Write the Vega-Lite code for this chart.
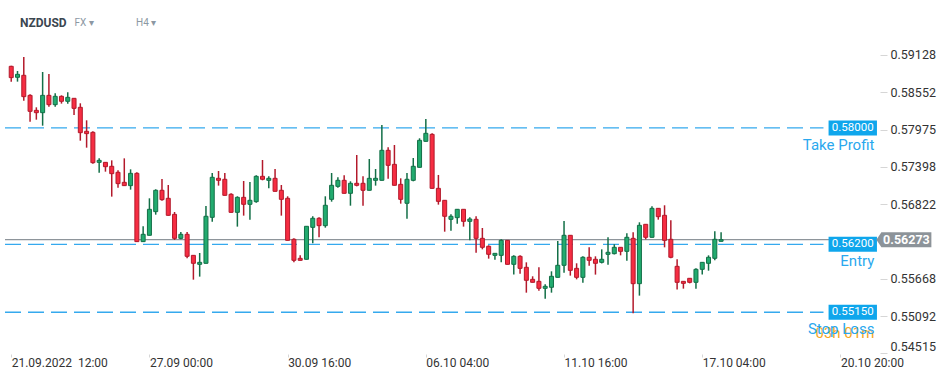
{
  "$schema": "https://vega.github.io/schema/vega-lite/v6.json",
  "autosize": "none",
  "width": 880,
  "height": 314,
  "padding": {"left": 0, "top": 40, "right": 69, "bottom": 24},
  "background": "white",
  "title": {
    "text": "NZDUSD",
    "subtitle": "\u200b\u00a0\u00a0\u00a0\u00a0\u00a0\u00a0\u00a0\u00a0\u00a0\u00a0\u00a0\u00a0\u00a0\u00a0\u00a0\u00a0\u00a0\u00a0\u00a0\u00a0\u00a0\u00a0FX \u25be\u00a0\u00a0\u00a0\u00a0\u00a0\u00a0\u00a0\u00a0\u00a0\u00a0\u00a0\u00a0\u00a0\u00a0\u00a0\u00a0\u00a0H4 \u25be",
    "anchor": "start",
    "frame": "group",
    "dx": 20,
    "offset": 10,
    "font": "Roboto",
    "fontSize": 12,
    "fontWeight": "bold",
    "color": "#3b4650",
    "subtitleFont": "Roboto",
    "subtitleFontSize": 10,
    "subtitleColor": "#8c98a3",
    "subtitlePadding": -12
  },
  "datasets": {
    "candles": [
      {"i":0,"o":0.58953,"h":0.58960,"l":0.58716,"c":0.58778},
      {"i":1,"o":0.58783,"h":0.58881,"l":0.58716,"c":0.58829},
      {"i":2,"o":0.58814,"h":0.59097,"l":0.58422,"c":0.58484},
      {"i":3,"o":0.58504,"h":0.58520,"l":0.58097,"c":0.58257},
      {"i":4,"o":0.58272,"h":0.58319,"l":0.58128,"c":0.58236},
      {"i":5,"o":0.58236,"h":0.58865,"l":0.58035,"c":0.58504},
      {"i":6,"o":0.58504,"h":0.58834,"l":0.58329,"c":0.58360},
      {"i":7,"o":0.58360,"h":0.58535,"l":0.58329,"c":0.58489},
      {"i":8,"o":0.58489,"h":0.58504,"l":0.58376,"c":0.58412},
      {"i":9,"o":0.58412,"h":0.58551,"l":0.58376,"c":0.58473},
      {"i":10,"o":0.58458,"h":0.58460,"l":0.58200,"c":0.58303},
      {"i":11,"o":0.58319,"h":0.58381,"l":0.57803,"c":0.57927},
      {"i":12,"o":0.57948,"h":0.58118,"l":0.57695,"c":0.57912},
      {"i":13,"o":0.57932,"h":0.57948,"l":0.57448,"c":0.57463},
      {"i":14,"o":0.57468,"h":0.57530,"l":0.57309,"c":0.57499},
      {"i":15,"o":0.57468,"h":0.57470,"l":0.57324,"c":0.57401},
      {"i":16,"o":0.57407,"h":0.57499,"l":0.56938,"c":0.57293},
      {"i":17,"o":0.57314,"h":0.57345,"l":0.57077,"c":0.57139},
      {"i":18,"o":0.57159,"h":0.57530,"l":0.57105,"c":0.57108},
      {"i":19,"o":0.57108,"h":0.57360,"l":0.57046,"c":0.57298},
      {"i":20,"o":0.57298,"h":0.57314,"l":0.56238,"c":0.56242},
      {"i":21,"o":0.56242,"h":0.56479,"l":0.56238,"c":0.56355},
      {"i":22,"o":0.56340,"h":0.56912,"l":0.56338,"c":0.56742},
      {"i":23,"o":0.56706,"h":0.57051,"l":0.56659,"c":0.57036},
      {"i":24,"o":0.57036,"h":0.57211,"l":0.56876,"c":0.56891},
      {"i":25,"o":0.56912,"h":0.57118,"l":0.56645,"c":0.56649},
      {"i":26,"o":0.56664,"h":0.56700,"l":0.56268,"c":0.56293},
      {"i":27,"o":0.56293,"h":0.56391,"l":0.56278,"c":0.56355},
      {"i":28,"o":0.56355,"h":0.56391,"l":0.55984,"c":0.56015},
      {"i":29,"o":0.56030,"h":0.56032,"l":0.55654,"c":0.55907},
      {"i":30,"o":0.55891,"h":0.56066,"l":0.55701,"c":0.55922},
      {"i":31,"o":0.55907,"h":0.56793,"l":0.55905,"c":0.56634},
      {"i":32,"o":0.56618,"h":0.57303,"l":0.56551,"c":0.57237},
      {"i":33,"o":0.57221,"h":0.57334,"l":0.57108,"c":0.57190},
      {"i":34,"o":0.57206,"h":0.57303,"l":0.56955,"c":0.56958},
      {"i":35,"o":0.56974,"h":0.56989,"l":0.56693,"c":0.56695},
      {"i":36,"o":0.56695,"h":0.56943,"l":0.56474,"c":0.56927},
      {"i":37,"o":0.56927,"h":0.57180,"l":0.56644,"c":0.56819},
      {"i":38,"o":0.56819,"h":0.57164,"l":0.56582,"c":0.56881},
      {"i":39,"o":0.56860,"h":0.57267,"l":0.56845,"c":0.57252},
      {"i":40,"o":0.57252,"h":0.57504,"l":0.57190,"c":0.57206},
      {"i":41,"o":0.57190,"h":0.57252,"l":0.57066,"c":0.57221},
      {"i":42,"o":0.57221,"h":0.57365,"l":0.57018,"c":0.57020},
      {"i":43,"o":0.57036,"h":0.57118,"l":0.56644,"c":0.56896},
      {"i":44,"o":0.56912,"h":0.56943,"l":0.56260,"c":0.56262},
      {"i":45,"o":0.56278,"h":0.56293,"l":0.55922,"c":0.55953},
      {"i":46,"o":0.55984,"h":0.56030,"l":0.55950,"c":0.55953},
      {"i":47,"o":0.55969,"h":0.56480,"l":0.55966,"c":0.56479},
      {"i":48,"o":0.56463,"h":0.56634,"l":0.56216,"c":0.56603},
      {"i":49,"o":0.56603,"h":0.56618,"l":0.56309,"c":0.56489},
      {"i":50,"o":0.56489,"h":0.56943,"l":0.56458,"c":0.56804},
      {"i":51,"o":0.56896,"h":0.57303,"l":0.56860,"c":0.57113},
      {"i":52,"o":0.57097,"h":0.57237,"l":0.57077,"c":0.57190},
      {"i":53,"o":0.57190,"h":0.57267,"l":0.56987,"c":0.56989},
      {"i":54,"o":0.56989,"h":0.57175,"l":0.56798,"c":0.57144},
      {"i":55,"o":0.57144,"h":0.57582,"l":0.57097,"c":0.57113},
      {"i":56,"o":0.57144,"h":0.57252,"l":0.56798,"c":0.57036},
      {"i":57,"o":0.57036,"h":0.57520,"l":0.57034,"c":0.57221},
      {"i":58,"o":0.57190,"h":0.57365,"l":0.57108,"c":0.57221},
      {"i":59,"o":0.57190,"h":0.58046,"l":0.57188,"c":0.57654},
      {"i":60,"o":0.57654,"h":0.57700,"l":0.57216,"c":0.57422},
      {"i":61,"o":0.57437,"h":0.57736,"l":0.57111,"c":0.57113},
      {"i":62,"o":0.57128,"h":0.57221,"l":0.56829,"c":0.56896},
      {"i":63,"o":0.56835,"h":0.57303,"l":0.56597,"c":0.57206},
      {"i":64,"o":0.57190,"h":0.57535,"l":0.57175,"c":0.57407},
      {"i":65,"o":0.57391,"h":0.57840,"l":0.57389,"c":0.57809},
      {"i":66,"o":0.57793,"h":0.58138,"l":0.57791,"c":0.57917},
      {"i":67,"o":0.57901,"h":0.57917,"l":0.57064,"c":0.57066},
      {"i":68,"o":0.57066,"h":0.57273,"l":0.56814,"c":0.56865},
      {"i":69,"o":0.56881,"h":0.56884,"l":0.56396,"c":0.56634},
      {"i":70,"o":0.56587,"h":0.56664,"l":0.56412,"c":0.56634},
      {"i":71,"o":0.56613,"h":0.56745,"l":0.56520,"c":0.56742},
      {"i":72,"o":0.56742,"h":0.56745,"l":0.56474,"c":0.56556},
      {"i":73,"o":0.56556,"h":0.56618,"l":0.56262,"c":0.56592},
      {"i":74,"o":0.56587,"h":0.56634,"l":0.56072,"c":0.56293},
      {"i":75,"o":0.56293,"h":0.56453,"l":0.56123,"c":0.56154},
      {"i":76,"o":0.56170,"h":0.56185,"l":0.55979,"c":0.56046},
      {"i":77,"o":0.56030,"h":0.56064,"l":0.55963,"c":0.56061},
      {"i":78,"o":0.56030,"h":0.56278,"l":0.55922,"c":0.56262},
      {"i":79,"o":0.56262,"h":0.56265,"l":0.55889,"c":0.55891},
      {"i":80,"o":0.55891,"h":0.56030,"l":0.55732,"c":0.56015},
      {"i":81,"o":0.56015,"h":0.56030,"l":0.55747,"c":0.55829},
      {"i":82,"o":0.55845,"h":0.55922,"l":0.55453,"c":0.55644},
      {"i":83,"o":0.55659,"h":0.55706,"l":0.55611,"c":0.55613},
      {"i":84,"o":0.55628,"h":0.55845,"l":0.55484,"c":0.55520},
      {"i":85,"o":0.55520,"h":0.55582,"l":0.55360,"c":0.55551},
      {"i":86,"o":0.55536,"h":0.55783,"l":0.55453,"c":0.55706},
      {"i":87,"o":0.55690,"h":0.56252,"l":0.55688,"c":0.55876},
      {"i":88,"o":0.55876,"h":0.56561,"l":0.55762,"c":0.56340},
      {"i":89,"o":0.56340,"h":0.56343,"l":0.55716,"c":0.55798},
      {"i":90,"o":0.55829,"h":0.55907,"l":0.55659,"c":0.55690},
      {"i":91,"o":0.55690,"h":0.56015,"l":0.55608,"c":0.56000},
      {"i":92,"o":0.56000,"h":0.56154,"l":0.55871,"c":0.55953},
      {"i":93,"o":0.55969,"h":0.56015,"l":0.55732,"c":0.55907},
      {"i":94,"o":0.55922,"h":0.56123,"l":0.55905,"c":0.55969},
      {"i":95,"o":0.56046,"h":0.56309,"l":0.55886,"c":0.56077},
      {"i":96,"o":0.56056,"h":0.56201,"l":0.56044,"c":0.56154},
      {"i":97,"o":0.56154,"h":0.56157,"l":0.56030,"c":0.56092},
      {"i":98,"o":0.56092,"h":0.56371,"l":0.55948,"c":0.56309},
      {"i":99,"o":0.56293,"h":0.56386,"l":0.55134,"c":0.55592},
      {"i":100,"o":0.55592,"h":0.56541,"l":0.55407,"c":0.56494},
      {"i":101,"o":0.56510,"h":0.56513,"l":0.56278,"c":0.56309},
      {"i":102,"o":0.56309,"h":0.56788,"l":0.56306,"c":0.56757},
      {"i":103,"o":0.56757,"h":0.56760,"l":0.56582,"c":0.56628},
      {"i":104,"o":0.56649,"h":0.56804,"l":0.56154,"c":0.56262},
      {"i":105,"o":0.56278,"h":0.56572,"l":0.55984,"c":0.56000},
      {"i":106,"o":0.55860,"h":0.55969,"l":0.55500,"c":0.55613},
      {"i":107,"o":0.55628,"h":0.55630,"l":0.55515,"c":0.55597},
      {"i":108,"o":0.55675,"h":0.55677,"l":0.55597,"c":0.55613},
      {"i":109,"o":0.55613,"h":0.55829,"l":0.55515,"c":0.55814},
      {"i":110,"o":0.55814,"h":0.55925,"l":0.55732,"c":0.55922},
      {"i":111,"o":0.55907,"h":0.56030,"l":0.55793,"c":0.56000},
      {"i":112,"o":0.55984,"h":0.56402,"l":0.55953,"c":0.56278},
      {"i":113,"o":0.56247,"h":0.56386,"l":0.56245,"c":0.56273}
    ],
    "levels": [
      {"name": "Take Profit", "price": 0.58000},
      {"name": "Entry", "price": 0.56200},
      {"name": "Stop Loss", "price": 0.55150}
    ],
    "last": [
      {"price": 0.56273, "timer": "03h 01m"}
    ]
  },
  "layer": [
    {
      "data": {"name": "levels"},
      "mark": {"type": "rule", "color": "#35a9ee", "strokeWidth": 1.3, "strokeDash": [16, 7]},
      "encoding": {
        "x": {"datum": -0.99},
        "x2": {"datum": 129.3},
        "y": {"field": "price", "type": "quantitative"}
      }
    },
    {
      "data": {"name": "last"},
      "mark": {"type": "rule", "color": "#8e959b", "strokeWidth": 1.2},
      "encoding": {
        "x": {"datum": -0.99},
        "x2": {"datum": 137.5},
        "y": {"field": "price", "type": "quantitative"}
      }
    },
    {
      "data": {"name": "candles"},
      "mark": {"type": "rule", "strokeWidth": 1.5},
      "encoding": {
        "x": {
          "field": "i",
          "type": "quantitative",
          "scale": {"domain": [-0.99, 137.5], "nice": false, "zero": false},
          "axis": {
            "title": null,
            "values": [0, 22, 44, 66, 88, 110, 132],
            "labelExpr": "datum.value == 0 ? '21.09.2022\u00a0\u00a012:00' : datum.value == 22 ? '27.09 00:00' : datum.value == 44 ? '30.09 16:00' : datum.value == 66 ? '06.10 04:00' : datum.value == 88 ? '11.10 16:00' : datum.value == 110 ? '17.10 04:00' : '20.10 20:00'",
            "labelAlign": "left",
            "labelFlush": false,
            "labelOverlap": false,
            "labelBaseline": "top",
            "labelPadding": 0,
            "labelFont": "Roboto",
            "labelFontSize": 12,
            "labelColor": "#333333",
            "domain": false,
            "grid": false,
            "ticks": true,
            "tickSize": 3,
            "tickColor": "#d6d6d6"
          }
        },
        "y": {
          "field": "l",
          "type": "quantitative",
          "scale": {"domain": [0.545045, 0.593599], "nice": false, "zero": false},
          "axis": {
            "title": null,
            "orient": "right",
            "values": [0.59128, 0.58552, 0.57975, 0.57398, 0.56822, 0.55668, 0.55092, 0.54515],
            "format": ".5f",
            "domain": false,
            "grid": false,
            "tickSize": 7,
            "tickColor": "#d6d6d6",
            "labelPadding": 3,
            "labelFont": "Roboto",
            "labelFontSize": 12.5,
            "labelColor": "#333333",
            "labelBaseline": {"condition": {"test": "datum.value < 0.546", "value": "bottom"}, "value": "middle"}
          }
        },
        "y2": {"field": "h"},
        "color": {"condition": {"test": "datum.c < datum.o", "value": "#b3192b"}, "value": "#136f47"}
      }
    },
    {
      "data": {"name": "candles"},
      "mark": {"type": "bar", "size": 4, "strokeWidth": 1},
      "encoding": {
        "x": {"field": "i", "type": "quantitative"},
        "y": {"field": "o", "type": "quantitative"},
        "y2": {"field": "c"},
        "fill": {"condition": {"test": "datum.c < datum.o", "value": "#f62d42"}, "value": "#22ab6f"},
        "stroke": {"condition": {"test": "datum.c < datum.o", "value": "#b3192b"}, "value": "#136f47"}
      }
    },
    {
      "data": {"name": "last"},
      "mark": {"type": "text", "align": "right", "baseline": "middle", "dy": 93, "font": "Roboto", "fontSize": 15, "color": "#f5a623"},
      "encoding": {
        "x": {"datum": 137.4},
        "y": {"field": "price", "type": "quantitative"},
        "text": {"field": "timer"}
      }
    },
    {
      "data": {"name": "levels"},
      "mark": {"type": "text", "align": "right", "baseline": "middle", "dy": 17, "font": "Roboto", "fontSize": 15, "color": "#2aa8ee"},
      "encoding": {
        "x": {"datum": 137.4},
        "y": {"field": "price", "type": "quantitative"},
        "text": {"field": "name"}
      }
    },
    {
      "data": {"name": "levels"},
      "mark": {"type": "point", "shape": "M-1.613,-0.5L1.613,-0.5L1.613,0.5L-1.613,0.5Z", "filled": true, "size": 900, "color": "#0fa6ec", "opacity": 1, "strokeWidth": 0},
      "encoding": {
        "x": {"datum": 133.96},
        "y": {"field": "price", "type": "quantitative"}
      }
    },
    {
      "data": {"name": "levels"},
      "mark": {"type": "text", "align": "center", "baseline": "middle", "font": "Roboto", "fontSize": 11.5, "color": "white"},
      "encoding": {
        "x": {"datum": 133.96},
        "y": {"field": "price", "type": "quantitative"},
        "text": {"field": "price", "format": ".5f"}
      }
    },
    {
      "data": {"name": "last"},
      "mark": {"type": "point", "shape": "M-3.667,0L-3,-1L3.667,-1L3.667,1L-3,1Z", "filled": true, "size": 225, "color": "#8c9399", "opacity": 1, "strokeWidth": 0},
      "encoding": {
        "x": {"datum": 142.1},
        "y": {"field": "price", "type": "quantitative"}
      }
    },
    {
      "data": {"name": "last"},
      "mark": {"type": "text", "align": "center", "baseline": "middle", "font": "Roboto", "fontSize": 12.5, "fontWeight": "bold", "color": "white"},
      "encoding": {
        "x": {"datum": 142.5},
        "y": {"field": "price", "type": "quantitative"},
        "text": {"field": "price", "format": ".5f"}
      }
    }
  ],
  "config": {
    "view": {"stroke": null}
  }
}
